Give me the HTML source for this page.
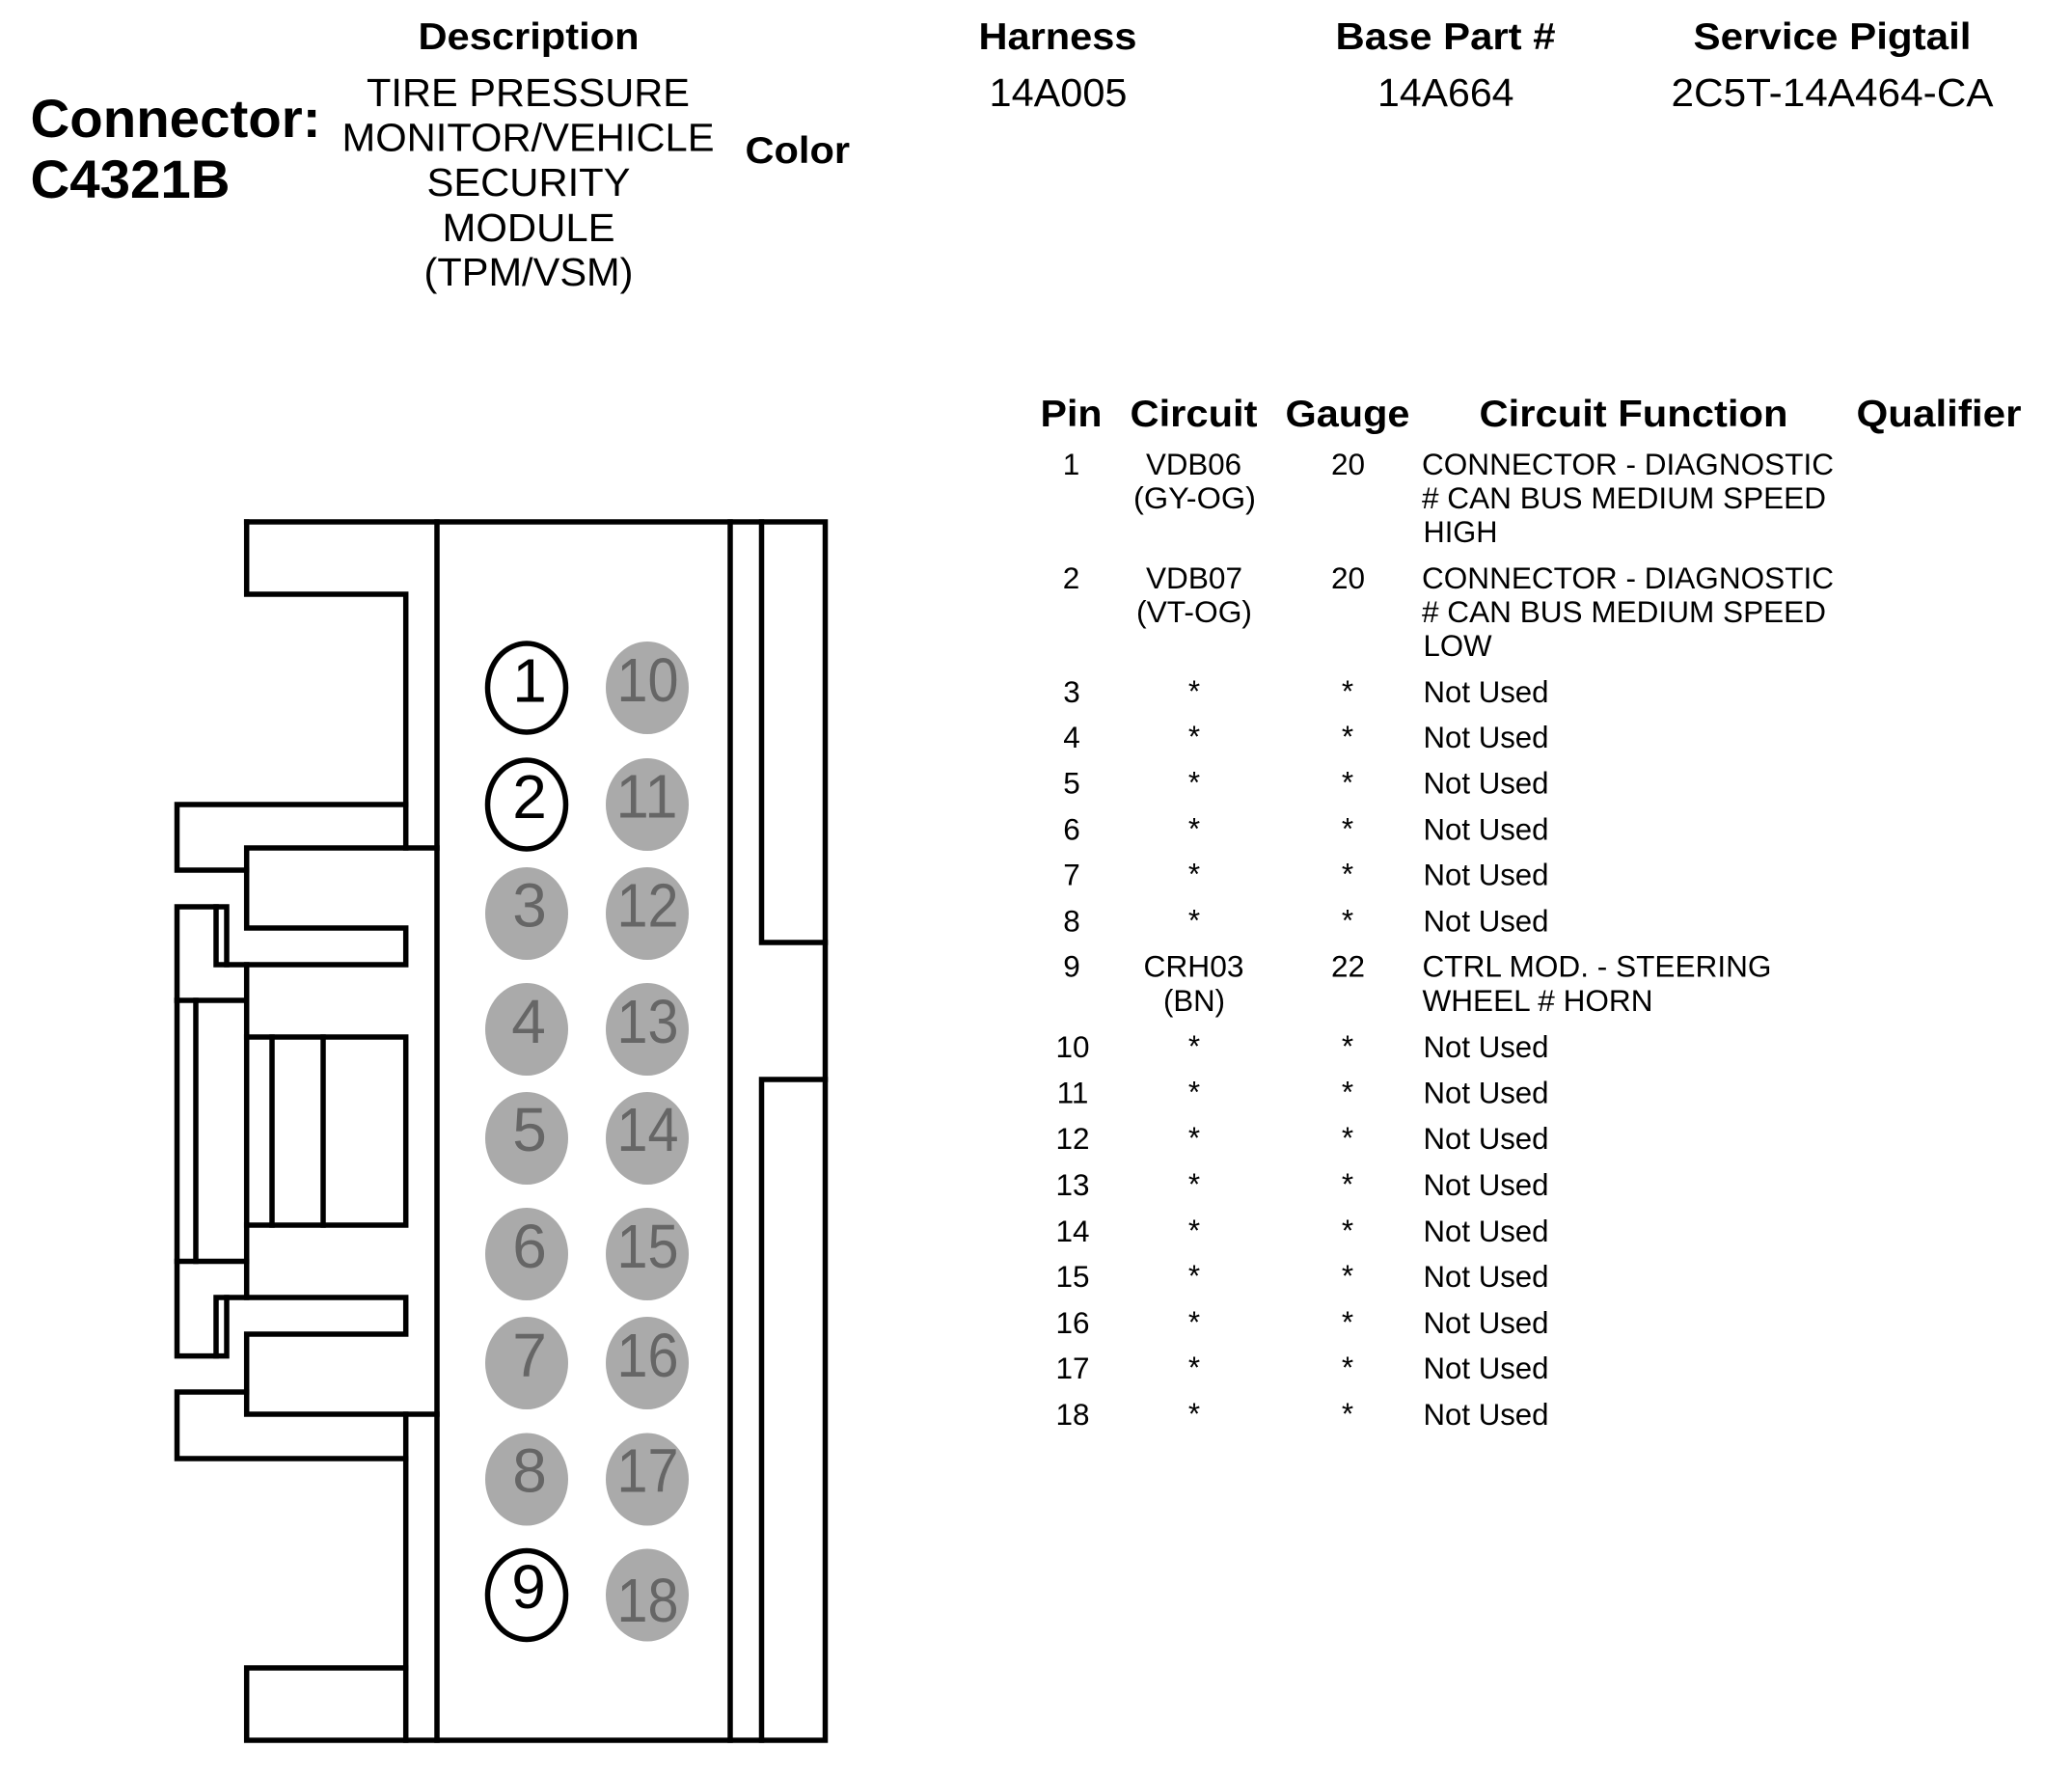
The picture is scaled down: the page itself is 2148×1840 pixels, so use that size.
<!DOCTYPE html>
<html lang="en">
<head>
<meta charset="utf-8">
<title>Connector C4321B</title>
<style>
html,body{margin:0;padding:0;background:#fff;width:2148px;height:1840px;overflow:hidden}
svg{display:block}
text{font-family:"Liberation Sans",Arial,sans-serif;fill:#000}
.t{font-size:56px;font-weight:700}
.h{font-size:39px;font-weight:700}
.r{font-size:40.5px}
.s{font-size:31.5px}
.m{text-anchor:middle}
.p{font-size:64px;text-anchor:middle}
.g{fill:#666}
</style>
</head>
<body>
<svg xmlns="http://www.w3.org/2000/svg" width="2148" height="1840" viewBox="0 0 2148 1840">
<rect width="2148" height="1840" fill="#fff"/>

<!-- top header -->
<text class="t" x="31.5" y="142" textLength="301" lengthAdjust="spacingAndGlyphs">Connector:</text>
<text class="t" x="31.5" y="205" textLength="207" lengthAdjust="spacingAndGlyphs">C4321B</text>
<text class="h" x="433.5" y="51" textLength="229" lengthAdjust="spacingAndGlyphs">Description</text>
<text class="r" x="380" y="110" textLength="335" lengthAdjust="spacingAndGlyphs">TIRE PRESSURE</text>
<text class="r" x="354.5" y="156.5" textLength="386" lengthAdjust="spacingAndGlyphs">MONITOR/VEHICLE</text>
<text class="r" x="442.5" y="203" textLength="211" lengthAdjust="spacingAndGlyphs">SECURITY</text>
<text class="r" x="458.5" y="250" textLength="179" lengthAdjust="spacingAndGlyphs">MODULE</text>
<text class="r" x="439.5" y="296" textLength="217" lengthAdjust="spacingAndGlyphs">(TPM/VSM)</text>
<text class="h" x="772.5" y="169" textLength="108.5" lengthAdjust="spacingAndGlyphs">Color</text>
<text class="h" x="1014.5" y="51" textLength="164" lengthAdjust="spacingAndGlyphs">Harness</text>
<text class="r" x="1025.5" y="110" textLength="143" lengthAdjust="spacingAndGlyphs">14A005</text>
<text class="h" x="1384.5" y="51" textLength="228" lengthAdjust="spacingAndGlyphs">Base Part #</text>
<text class="r" x="1428" y="110" textLength="141.5" lengthAdjust="spacingAndGlyphs">14A664</text>
<text class="h" x="1755.5" y="51" textLength="288" lengthAdjust="spacingAndGlyphs">Service Pigtail</text>
<text class="r" x="1732.5" y="110" textLength="334" lengthAdjust="spacingAndGlyphs">2C5T-14A464-CA</text>

<!-- table header -->
<text class="h" x="1078.5" y="442" textLength="64" lengthAdjust="spacingAndGlyphs">Pin</text>
<text class="h" x="1171.5" y="442" textLength="132" lengthAdjust="spacingAndGlyphs">Circuit</text>
<text class="h" x="1332.5" y="442" textLength="129" lengthAdjust="spacingAndGlyphs">Gauge</text>
<text class="h" x="1533.5" y="442" textLength="320" lengthAdjust="spacingAndGlyphs">Circuit Function</text>
<text class="h" x="1924.5" y="442" textLength="171" lengthAdjust="spacingAndGlyphs">Qualifier</text>

<!-- row 1 -->
<text class="s m" x="1110.5" y="492">1</text>
<text class="s" x="1188" y="492" textLength="99" lengthAdjust="spacingAndGlyphs">VDB06</text>
<text class="s" x="1175" y="527" textLength="127" lengthAdjust="spacingAndGlyphs">(GY-OG)</text>
<text class="s m" x="1397.5" y="492">20</text>
<text class="s" x="1474" y="492" textLength="427" lengthAdjust="spacingAndGlyphs">CONNECTOR - DIAGNOSTIC</text>
<text class="s" x="1474" y="527" textLength="419" lengthAdjust="spacingAndGlyphs"># CAN BUS MEDIUM SPEED</text>
<text class="s" x="1475.5" y="562" textLength="77" lengthAdjust="spacingAndGlyphs">HIGH</text>
<!-- row 2 -->
<text class="s m" x="1110.5" y="610">2</text>
<text class="s" x="1188" y="610" textLength="100" lengthAdjust="spacingAndGlyphs">VDB07</text>
<text class="s" x="1178" y="645" textLength="120" lengthAdjust="spacingAndGlyphs">(VT-OG)</text>
<text class="s m" x="1397.5" y="610">20</text>
<text class="s" x="1474" y="610" textLength="427" lengthAdjust="spacingAndGlyphs">CONNECTOR - DIAGNOSTIC</text>
<text class="s" x="1474" y="645" textLength="419" lengthAdjust="spacingAndGlyphs"># CAN BUS MEDIUM SPEED</text>
<text class="s" x="1475.5" y="680" textLength="71" lengthAdjust="spacingAndGlyphs">LOW</text>
<!-- row 9 -->
<text class="s m" x="1111" y="1012.5">9</text>
<text class="s" x="1185.5" y="1012.5" textLength="104" lengthAdjust="spacingAndGlyphs">CRH03</text>
<text class="s" x="1206" y="1048" textLength="64" lengthAdjust="spacingAndGlyphs">(BN)</text>
<text class="s m" x="1397.5" y="1012.5">22</text>
<text class="s" x="1474.5" y="1012.5" textLength="362" lengthAdjust="spacingAndGlyphs">CTRL MOD. - STEERING</text>
<text class="s" x="1474.5" y="1048" textLength="239" lengthAdjust="spacingAndGlyphs">WHEEL # HORN</text>

<!-- not used rows -->
<text class="s m" x="1111" y="728">3</text><text class="s m" x="1238" y="727">*</text><text class="s m" x="1397" y="727">*</text><text class="s" x="1475.5" y="728" textLength="130" lengthAdjust="spacingAndGlyphs">Not Used</text>
<text class="s m" x="1111" y="775">4</text><text class="s m" x="1238" y="774">*</text><text class="s m" x="1397" y="774">*</text><text class="s" x="1475.5" y="775" textLength="130" lengthAdjust="spacingAndGlyphs">Not Used</text>
<text class="s m" x="1111" y="822.5">5</text><text class="s m" x="1238" y="821.5">*</text><text class="s m" x="1397" y="821.5">*</text><text class="s" x="1475.5" y="822.5" textLength="130" lengthAdjust="spacingAndGlyphs">Not Used</text>
<text class="s m" x="1111" y="870.5">6</text><text class="s m" x="1238" y="869.5">*</text><text class="s m" x="1397" y="869.5">*</text><text class="s" x="1475.5" y="870.5" textLength="130" lengthAdjust="spacingAndGlyphs">Not Used</text>
<text class="s m" x="1111" y="917.5">7</text><text class="s m" x="1238" y="916.5">*</text><text class="s m" x="1397" y="916.5">*</text><text class="s" x="1475.5" y="917.5" textLength="130" lengthAdjust="spacingAndGlyphs">Not Used</text>
<text class="s m" x="1111" y="965.5">8</text><text class="s m" x="1238" y="964.5">*</text><text class="s m" x="1397" y="964.5">*</text><text class="s" x="1475.5" y="965.5" textLength="130" lengthAdjust="spacingAndGlyphs">Not Used</text>
<text class="s m" x="1112" y="1096">10</text><text class="s m" x="1238" y="1095">*</text><text class="s m" x="1397" y="1095">*</text><text class="s" x="1475.5" y="1096" textLength="130" lengthAdjust="spacingAndGlyphs">Not Used</text>
<text class="s m" x="1112" y="1143.5">11</text><text class="s m" x="1238" y="1142.5">*</text><text class="s m" x="1397" y="1142.5">*</text><text class="s" x="1475.5" y="1143.5" textLength="130" lengthAdjust="spacingAndGlyphs">Not Used</text>
<text class="s m" x="1112" y="1191">12</text><text class="s m" x="1238" y="1190">*</text><text class="s m" x="1397" y="1190">*</text><text class="s" x="1475.5" y="1191" textLength="130" lengthAdjust="spacingAndGlyphs">Not Used</text>
<text class="s m" x="1112" y="1239">13</text><text class="s m" x="1238" y="1238">*</text><text class="s m" x="1397" y="1238">*</text><text class="s" x="1475.5" y="1239" textLength="130" lengthAdjust="spacingAndGlyphs">Not Used</text>
<text class="s m" x="1112" y="1287">14</text><text class="s m" x="1238" y="1286">*</text><text class="s m" x="1397" y="1286">*</text><text class="s" x="1475.5" y="1287" textLength="130" lengthAdjust="spacingAndGlyphs">Not Used</text>
<text class="s m" x="1112" y="1334">15</text><text class="s m" x="1238" y="1333">*</text><text class="s m" x="1397" y="1333">*</text><text class="s" x="1475.5" y="1334" textLength="130" lengthAdjust="spacingAndGlyphs">Not Used</text>
<text class="s m" x="1112" y="1382">16</text><text class="s m" x="1238" y="1381">*</text><text class="s m" x="1397" y="1381">*</text><text class="s" x="1475.5" y="1382" textLength="130" lengthAdjust="spacingAndGlyphs">Not Used</text>
<text class="s m" x="1112" y="1429">17</text><text class="s m" x="1238" y="1428">*</text><text class="s m" x="1397" y="1428">*</text><text class="s" x="1475.5" y="1429" textLength="130" lengthAdjust="spacingAndGlyphs">Not Used</text>
<text class="s m" x="1112" y="1477">18</text><text class="s m" x="1238" y="1476">*</text><text class="s m" x="1397" y="1476">*</text><text class="s" x="1475.5" y="1477" textLength="130" lengthAdjust="spacingAndGlyphs">Not Used</text>

<!-- connector body -->
<g fill="none" stroke="#000" stroke-width="5.5" stroke-linecap="square" stroke-linejoin="miter">
<path d="M255.7 541H855.5V1804H255.7V1729H420.7"/>
<path d="M453 541V1804M757 541V1804"/>
<path d="M789.5 541V977H855.5M855.5 1119H789.5V1804"/>
<path d="M255.7 541V616H420.7V879"/>
<path d="M420.7 834H183.5V902H255.7"/>
<path d="M453 879H255.7V962H420.7V1000H224V940"/>
<path d="M183.5 1037V940H235V1000"/>
<path d="M183.5 1037H255.7M255.7 1000V1345"/>
<path d="M203 1037V1307.5"/>
<path d="M255.7 1075H420.7V1270H255.7"/>
<path d="M282 1075V1270M335 1075V1270"/>
<path d="M183.5 1037V1405.6H235V1345"/>
<path d="M183.5 1307.5H255.7"/>
<path d="M224 1405.6V1345H420.7V1383H255.7V1466H453"/>
<path d="M255.7 1443H183.5V1512H420.7"/>
<path d="M420.7 1466V1804"/>
</g>

<!-- pins -->
<g fill="#aaa">
<ellipse cx="671" cy="713" rx="43" ry="48"/>
<ellipse cx="671" cy="834" rx="43" ry="48"/>
<ellipse cx="546" cy="947" rx="43" ry="48"/><ellipse cx="671" cy="947" rx="43" ry="48"/>
<ellipse cx="546" cy="1067" rx="43" ry="48"/><ellipse cx="671" cy="1067" rx="43" ry="48"/>
<ellipse cx="546" cy="1180" rx="43" ry="48"/><ellipse cx="671" cy="1180" rx="43" ry="48"/>
<ellipse cx="546" cy="1300" rx="43" ry="48"/><ellipse cx="671" cy="1300" rx="43" ry="48"/>
<ellipse cx="546" cy="1413" rx="43" ry="48"/><ellipse cx="671" cy="1413" rx="43" ry="48"/>
<ellipse cx="546" cy="1533.5" rx="43" ry="48"/><ellipse cx="671" cy="1533.5" rx="43" ry="48"/>
<ellipse cx="671" cy="1653.5" rx="43" ry="48"/>
</g>
<g fill="#fff" stroke="#000" stroke-width="5.5">
<ellipse cx="546" cy="713" rx="40.5" ry="46"/>
<ellipse cx="546" cy="834" rx="40.5" ry="46"/>
<ellipse cx="546" cy="1653.5" rx="40.5" ry="46"/>
</g>
<text class="p" x="549" y="727.5">1</text>
<text class="p" x="549" y="848">2</text>
<text class="p" x="548" y="1667">9</text>
<text class="p g" x="549" y="960.5">3</text>
<text class="p g" x="548" y="1081">4</text>
<text class="p g" x="549" y="1193">5</text>
<text class="p g" x="549" y="1314">6</text>
<text class="p g" x="549" y="1427">7</text>
<text class="p g" x="549" y="1546.5">8</text>
<text class="p g" x="671.5" y="727" textLength="64" lengthAdjust="spacingAndGlyphs">10</text>
<text class="p g" x="670.5" y="847.5" textLength="64" lengthAdjust="spacingAndGlyphs">11</text>
<text class="p g" x="671.5" y="960.5" textLength="64" lengthAdjust="spacingAndGlyphs">12</text>
<text class="p g" x="671.5" y="1081" textLength="64" lengthAdjust="spacingAndGlyphs">13</text>
<text class="p g" x="671.5" y="1193" textLength="64" lengthAdjust="spacingAndGlyphs">14</text>
<text class="p g" x="671.5" y="1314" textLength="64" lengthAdjust="spacingAndGlyphs">15</text>
<text class="p g" x="671.5" y="1427" textLength="64" lengthAdjust="spacingAndGlyphs">16</text>
<text class="p g" x="671.5" y="1546.5" textLength="64" lengthAdjust="spacingAndGlyphs">17</text>
<text class="p g" x="671.5" y="1681" textLength="64" lengthAdjust="spacingAndGlyphs">18</text>
</svg>
</body>
</html>
